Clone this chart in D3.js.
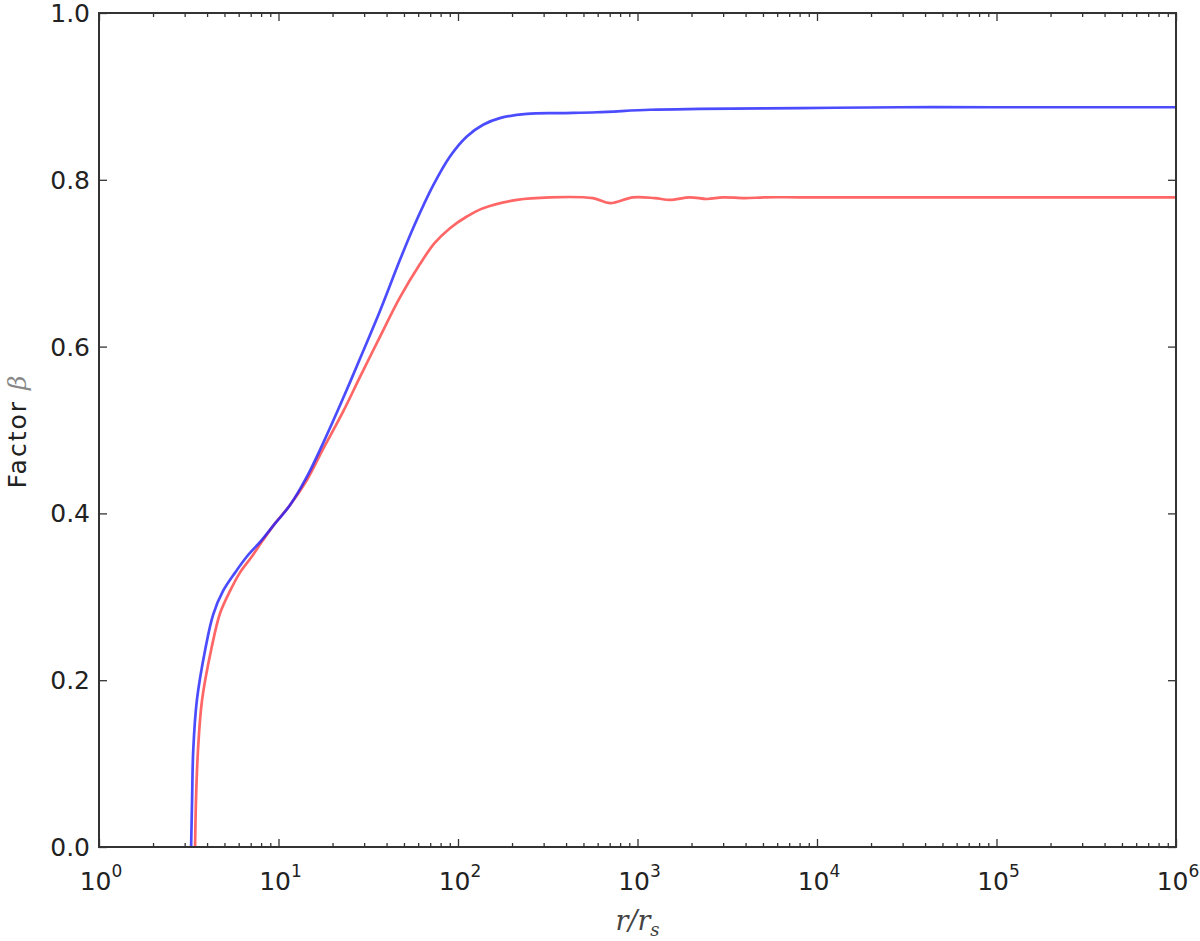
<!DOCTYPE html>
<html>
<head>
<meta charset="utf-8">
<script src="https://cdn.jsdelivr.net/npm/d3@7"></script>
<style>
  body { margin: 0; background: #fff; }
  svg { display: block; }
  text { font-family: "DejaVu Sans", sans-serif; fill: #222; }
</style>
</head>
<body>
<svg></svg>
<script>
const width = 1200;
const height = 941;
const margin = {top: 13, right: 24, bottom: 94, left: 99};

// r / r_s  and  beta
const blueR = [3.26, 3.30, 3.35, 3.51, 3.90, 4.33, 4.91, 5.73, 6.65, 8.06, 9.57, 11.6, 14.4, 17.7, 22.9, 28.5, 36.8, 47.5, 56.2, 72.6, 90.2, 112, 138, 171, 242, 370, 595, 1175, 2230, 8030, 29000, 1e5, 1e6];
const blueBeta = [0.0, 0.056, 0.116, 0.176, 0.236, 0.279, 0.307, 0.329, 0.348, 0.368, 0.388, 0.410, 0.444, 0.484, 0.538, 0.586, 0.643, 0.704, 0.742, 0.793, 0.828, 0.852, 0.866, 0.874, 0.879, 0.880, 0.881, 0.884, 0.885, 0.886, 0.887, 0.887, 0.887];

const redR = [3.43, 3.47, 3.56, 3.75, 4.25, 4.72, 5.37, 6.10, 7.09, 8.2, 9.57, 11.6, 14.4, 17.7, 22.9, 28.5, 36.8, 47.5, 61.4, 74, 90.2, 112, 138, 213, 326, 565, 703, 944, 1250, 1517, 1960, 2440, 2990, 3970, 5130, 8040, 29000, 1e5, 1e6];
const redBeta = [0.0, 0.056, 0.116, 0.176, 0.240, 0.280, 0.307, 0.329, 0.348, 0.368, 0.388, 0.410, 0.440, 0.477, 0.522, 0.564, 0.612, 0.659, 0.699, 0.724, 0.742, 0.756, 0.766, 0.776, 0.779, 0.778, 0.772, 0.779, 0.778, 0.776, 0.779, 0.777, 0.779, 0.778, 0.779, 0.779, 0.779, 0.779, 0.779];

const xTicks = [1, 10, 100, 1000, 10000, 100000, 1000000];
const yTicks = [0, 0.2, 0.4, 0.6, 0.8, 1.0];

const svg = d3.select('svg')
  .attr('width', width)
  .attr('height', height);

const x = d3.scaleLog()
  .domain([1, 1e6])
  .range([margin.left, width - margin.right]);

const y = d3.scaleLinear()
  .domain([0, 1])
  .range([height - margin.bottom, margin.top]);

const blue = blueR.map((r, i) => [r, blueBeta[i]]);
const red = redR.map((r, i) => [r, redBeta[i]]);

const line = d3.line()
  .x(d => x(d[0]))
  .y(d => y(d[1]))
  .curve(d3.curveCatmullRom.alpha(0.5));

const plot = svg.append('g');

plot.append('path')
  .datum(red)
  .attr('d', line)
  .attr('fill', 'none')
  .attr('stroke', '#ff3333')
  .attr('stroke-opacity', 0.75)
  .attr('stroke-width', 2.7);

plot.append('path')
  .datum(blue)
  .attr('d', line)
  .attr('fill', 'none')
  .attr('stroke', '#1a1aff')
  .attr('stroke-opacity', 0.78)
  .attr('stroke-width', 2.7);

// minor ticks for the log axis
const minor = [];
for (let e = 0; e < 6; e++) {
  for (let k = 2; k <= 9; k++) minor.push(k * Math.pow(10, e));
}

function styleTicks(g) {
  g.select('.domain').remove();
  g.selectAll('line').attr('stroke', '#333').attr('stroke-width', 1.3);
  g.selectAll('text').remove();
}

const x0 = height - margin.bottom;
const x1 = margin.top;
const y0 = margin.left;
const y1 = width - margin.right;

svg.append('g').attr('transform', `translate(0,${x0})`)
  .call(d3.axisBottom(x).tickValues(xTicks).tickSize(-8)).call(styleTicks);
svg.append('g').attr('transform', `translate(0,${x0})`)
  .call(d3.axisBottom(x).tickValues(minor).tickSize(-4)).call(styleTicks);
svg.append('g').attr('transform', `translate(0,${x1})`)
  .call(d3.axisTop(x).tickValues(xTicks).tickSize(-8)).call(styleTicks);
svg.append('g').attr('transform', `translate(0,${x1})`)
  .call(d3.axisTop(x).tickValues(minor).tickSize(-4)).call(styleTicks);
svg.append('g').attr('transform', `translate(${y0},0)`)
  .call(d3.axisLeft(y).tickValues(yTicks).tickSize(-8)).call(styleTicks);
svg.append('g').attr('transform', `translate(${y1},0)`)
  .call(d3.axisRight(y).tickValues(yTicks).tickSize(-8)).call(styleTicks);

// frame
svg.append('rect')
  .attr('x', y0)
  .attr('y', x1)
  .attr('width', y1 - y0)
  .attr('height', x0 - x1)
  .attr('fill', 'none')
  .attr('stroke', '#333')
  .attr('stroke-width', 2);

// y tick labels
svg.selectAll('.ylab')
  .data(yTicks)
  .enter()
  .append('text')
  .attr('x', y0 - 9)
  .attr('y', d => y(d))
  .attr('dy', '0.36em')
  .attr('text-anchor', 'end')
  .style('font-size', '25px')
  .text(d => d.toFixed(1));

// x tick labels 10^n
const xl = svg.selectAll('.xlab')
  .data(xTicks)
  .enter()
  .append('text')
  .attr('x', d => x(d) + 2)
  .attr('y', x0 + 43)
  .attr('text-anchor', 'middle')
  .style('font-size', '25px');
xl.append('tspan').text('10');
xl.append('tspan')
  .attr('dy', -13)
  .style('font-size', '17px')
  .text(d => Math.round(Math.log10(d)));

// axis titles
const yt = svg.append('text')
  .attr('transform', `translate(26,${432}) rotate(-90)`)
  .attr('text-anchor', 'middle')
  .style('font-size', '25px');
yt.append('tspan').style('letter-spacing', '2px').text('Factor ');
yt.append('tspan')
  .style('font-family', '"DejaVu Serif", serif')
  .style('font-style', 'italic')
  .style('fill', '#888')
  .text('\u03b2');

const xt = svg.append('text')
  .attr('x', (y0 + y1) / 2)
  .attr('y', 930)
  .attr('text-anchor', 'middle')
  .style('font-family', '"DejaVu Serif", serif')
  .style('font-style', 'italic')
  .style('font-size', '27px')
  .style('fill', '#444');
xt.append('tspan').text('r/r');
xt.append('tspan').attr('dy', 6).style('font-size', '18px').text('s');
</script>
</body>
</html>
